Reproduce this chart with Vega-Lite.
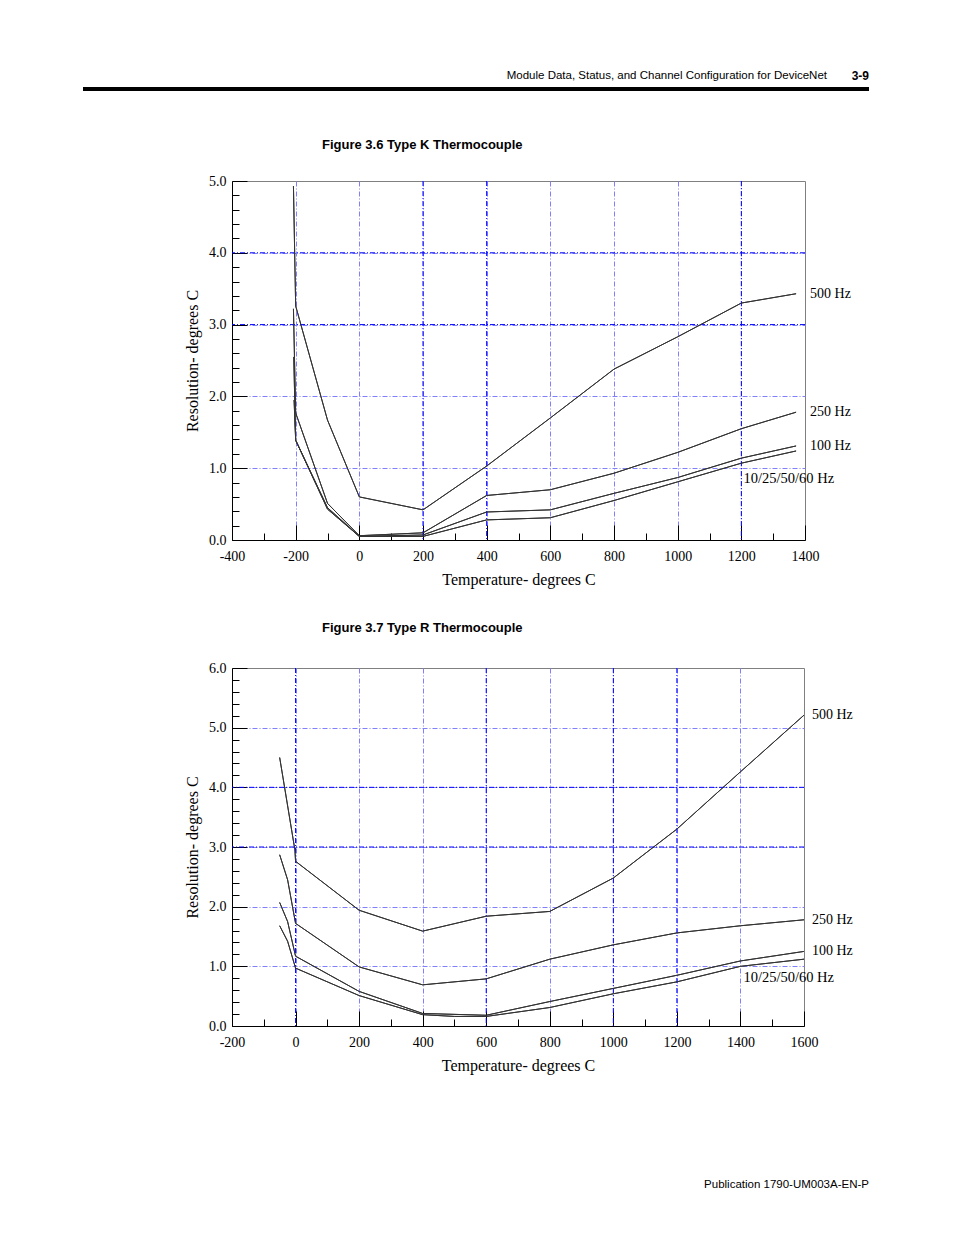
{
  "$schema": "https://vega.github.io/schema/vega-lite/v6.json",
  "padding": {"left": 83, "top": 69, "right": 0, "bottom": 0},
  "background": "white",
  "title": {"text": "3-9", "anchor": "end", "font": "Liberation Sans Narrow, Liberation Sans", "fontSize": 12, "fontWeight": "bold", "color": "black", "offset": 0, "dy": 13},
  "config": {
    "view": {"stroke": "#808080", "strokeWidth": 1},
    "axis": {"labelFont": "Liberation Serif", "labelFontSize": 14, "labelColor": "black", "titleFont": "Liberation Serif", "titleFontSize": 16, "titleFontWeight": "normal", "titleColor": "black", "domainColor": "black", "domainWidth": 1, "tickColor": "black", "tickWidth": 1, "labelFlush": false, "labelOverlap": false, "tickCount": 60, "gridDash": [5, 2, 1, 2], "gridWidth": 1, "gridColor": "#8080ff"},
    "title": {"color": "black"}
  },
  "datasets": {
    "k": [
      {"series": "500 Hz", "temp": -207, "res": 4.93},
      {"series": "500 Hz", "temp": -200, "res": 3.26},
      {"series": "500 Hz", "temp": -100, "res": 1.67},
      {"series": "500 Hz", "temp": 0, "res": 0.60},
      {"series": "500 Hz", "temp": 200, "res": 0.42},
      {"series": "500 Hz", "temp": 400, "res": 1.03},
      {"series": "500 Hz", "temp": 600, "res": 1.70},
      {"series": "500 Hz", "temp": 800, "res": 2.38},
      {"series": "500 Hz", "temp": 1000, "res": 2.83},
      {"series": "500 Hz", "temp": 1200, "res": 3.30},
      {"series": "500 Hz", "temp": 1372, "res": 3.43},
      {"series": "250 Hz", "temp": -207, "res": 3.22},
      {"series": "250 Hz", "temp": -200, "res": 1.77},
      {"series": "250 Hz", "temp": -100, "res": 0.51},
      {"series": "250 Hz", "temp": 0, "res": 0.06},
      {"series": "250 Hz", "temp": 100, "res": 0.08},
      {"series": "250 Hz", "temp": 200, "res": 0.10},
      {"series": "250 Hz", "temp": 400, "res": 0.62},
      {"series": "250 Hz", "temp": 600, "res": 0.70},
      {"series": "250 Hz", "temp": 800, "res": 0.93},
      {"series": "250 Hz", "temp": 1000, "res": 1.22},
      {"series": "250 Hz", "temp": 1200, "res": 1.55},
      {"series": "250 Hz", "temp": 1372, "res": 1.78},
      {"series": "100 Hz", "temp": -206, "res": 2.55},
      {"series": "100 Hz", "temp": -200, "res": 1.39},
      {"series": "100 Hz", "temp": -100, "res": 0.45},
      {"series": "100 Hz", "temp": 0, "res": 0.05},
      {"series": "100 Hz", "temp": 200, "res": 0.07},
      {"series": "100 Hz", "temp": 400, "res": 0.39},
      {"series": "100 Hz", "temp": 600, "res": 0.42},
      {"series": "100 Hz", "temp": 800, "res": 0.65},
      {"series": "100 Hz", "temp": 1000, "res": 0.87},
      {"series": "100 Hz", "temp": 1200, "res": 1.14},
      {"series": "100 Hz", "temp": 1372, "res": 1.31},
      {"series": "10/25/50/60 Hz", "temp": -205, "res": 1.95},
      {"series": "10/25/50/60 Hz", "temp": -200, "res": 1.39},
      {"series": "10/25/50/60 Hz", "temp": -100, "res": 0.43},
      {"series": "10/25/50/60 Hz", "temp": 0, "res": 0.05},
      {"series": "10/25/50/60 Hz", "temp": 200, "res": 0.05},
      {"series": "10/25/50/60 Hz", "temp": 400, "res": 0.28},
      {"series": "10/25/50/60 Hz", "temp": 600, "res": 0.31},
      {"series": "10/25/50/60 Hz", "temp": 800, "res": 0.55},
      {"series": "10/25/50/60 Hz", "temp": 1000, "res": 0.81},
      {"series": "10/25/50/60 Hz", "temp": 1200, "res": 1.07},
      {"series": "10/25/50/60 Hz", "temp": 1372, "res": 1.24}
    ],
    "r": [
      {"series": "500 Hz", "temp": -50, "res": 4.50},
      {"series": "500 Hz", "temp": -2, "res": 2.95},
      {"series": "500 Hz", "temp": 0, "res": 2.76},
      {"series": "500 Hz", "temp": 200, "res": 1.94},
      {"series": "500 Hz", "temp": 400, "res": 1.59},
      {"series": "500 Hz", "temp": 600, "res": 1.84},
      {"series": "500 Hz", "temp": 800, "res": 1.92},
      {"series": "500 Hz", "temp": 1000, "res": 2.48},
      {"series": "500 Hz", "temp": 1200, "res": 3.30},
      {"series": "500 Hz", "temp": 1400, "res": 4.26},
      {"series": "500 Hz", "temp": 1600, "res": 5.21},
      {"series": "250 Hz", "temp": -50, "res": 2.87},
      {"series": "250 Hz", "temp": -25, "res": 2.45},
      {"series": "250 Hz", "temp": 0, "res": 1.72},
      {"series": "250 Hz", "temp": 200, "res": 0.99},
      {"series": "250 Hz", "temp": 400, "res": 0.69},
      {"series": "250 Hz", "temp": 600, "res": 0.79},
      {"series": "250 Hz", "temp": 800, "res": 1.12},
      {"series": "250 Hz", "temp": 1000, "res": 1.36},
      {"series": "250 Hz", "temp": 1200, "res": 1.56},
      {"series": "250 Hz", "temp": 1400, "res": 1.68},
      {"series": "250 Hz", "temp": 1600, "res": 1.78},
      {"series": "100 Hz", "temp": -50, "res": 2.07},
      {"series": "100 Hz", "temp": -25, "res": 1.75},
      {"series": "100 Hz", "temp": 0, "res": 1.17},
      {"series": "100 Hz", "temp": 200, "res": 0.58},
      {"series": "100 Hz", "temp": 400, "res": 0.21},
      {"series": "100 Hz", "temp": 600, "res": 0.18},
      {"series": "100 Hz", "temp": 800, "res": 0.41},
      {"series": "100 Hz", "temp": 1000, "res": 0.63},
      {"series": "100 Hz", "temp": 1200, "res": 0.85},
      {"series": "100 Hz", "temp": 1400, "res": 1.09},
      {"series": "100 Hz", "temp": 1600, "res": 1.25},
      {"series": "10/25/50/60 Hz", "temp": -50, "res": 1.68},
      {"series": "10/25/50/60 Hz", "temp": -25, "res": 1.42},
      {"series": "10/25/50/60 Hz", "temp": 0, "res": 0.97},
      {"series": "10/25/50/60 Hz", "temp": 200, "res": 0.51},
      {"series": "10/25/50/60 Hz", "temp": 400, "res": 0.19},
      {"series": "10/25/50/60 Hz", "temp": 500, "res": 0.16},
      {"series": "10/25/50/60 Hz", "temp": 600, "res": 0.16},
      {"series": "10/25/50/60 Hz", "temp": 800, "res": 0.31},
      {"series": "10/25/50/60 Hz", "temp": 1000, "res": 0.54},
      {"series": "10/25/50/60 Hz", "temp": 1200, "res": 0.74},
      {"series": "10/25/50/60 Hz", "temp": 1400, "res": 1.00},
      {"series": "10/25/50/60 Hz", "temp": 1600, "res": 1.12}
    ],
    "kgridx": [{"g": 200}, {"g": 400}, {"g": 1200}],
    "kgridy": [{"g": 3}, {"g": 4}],
    "rgridx": [{"g": 0}, {"g": 600}, {"g": 1000}, {"g": 1200}],
    "rgridy": [{"g": 3}, {"g": 4}]
  },
  "spacing": 44,
  "vconcat": [
    {
      "data": {"values": [{}]},
      "mark": {"type": "text", "text": ""},
      "width": 786,
      "height": 4,
      "view": {"fill": "black", "stroke": null},
      "title": {"text": "Module Data, Status, and Channel Configuration for DeviceNet", "anchor": "end", "frame": "group", "dx": -42, "offset": 2, "font": "Liberation Sans Narrow, Liberation Sans", "fontSize": 11.5, "fontWeight": "normal", "color": "black"}
    },
    {
      "spacing": 105,
      "vconcat": [
        {
          "spacing": 0,
          "hconcat": [
            {
              "data": {"values": [{}]},
              "mark": {"type": "text", "text": ""},
              "width": 101,
              "height": 1,
              "view": {"stroke": null}
            },
            {
              "spacing": 33,
              "vconcat": [
                {
                  "width": 573,
                  "height": 359,
                  "title": {"text": "Figure 3.6 Type K Thermocouple", "anchor": "start", "frame": "group", "dx": 90, "offset": 22, "font": "Liberation Sans Narrow, Liberation Sans", "fontSize": 13, "fontWeight": "bold", "color": "black"},
                  "layer": [
                    {
                      "data": {"name": "k"},
                      "mark": {"type": "line", "color": "#333333", "strokeWidth": 1},
                      "encoding": {
                        "x": {"field": "temp", "type": "quantitative", "scale": {"domain": [-400, 1400], "nice": false, "zero": false},
                          "axis": {"title": "Temperature- degrees C", "titlePadding": 0, "tickCount": 60,
                            "values": [-400,-300,-200,-100,0,100,200,300,400,500,600,700,800,900,1000,1100,1200,1300,1400],
                            "labelExpr": "datum.value % 200 === 0 ? '' + datum.value : ''",
                            "labelPadding": 24,
                            "tickSize": {"condition": {"test": "datum.value % 200 === 0", "value": -15}, "value": -7},
                            "grid": true,
                            "gridOpacity": {"condition": {"test": "datum.value % 200 === 0 && datum.value > -400 && datum.value < 1400", "value": 1}, "value": 0}
                          }},
                        "y": {"field": "res", "type": "quantitative", "scale": {"domain": [0, 5], "nice": false, "zero": false},
                          "axis": {"title": "Resolution- degrees C", "titlePadding": 8, "tickCount": 60,
                            "values": [0,0.2,0.4,0.6,0.8,1,1.2,1.4,1.6,1.8,2,2.2,2.4,2.6,2.8,3,3.2,3.4,3.6,3.8,4,4.2,4.4,4.6,4.8,5],
                            "labelExpr": "abs(datum.value - round(datum.value)) < 0.001 ? format(datum.value, '.1f') : ''",
                            "labelPadding": 21,
                            "tickSize": {"condition": {"test": "abs(datum.value - round(datum.value)) < 0.001", "value": -15}, "value": -7},
                            "grid": true,
                            "gridOpacity": {"condition": {"test": "abs(datum.value - round(datum.value)) < 0.001 && datum.value > 0 && datum.value < 5", "value": 1}, "value": 0}
                          }},
                        "detail": {"field": "series"}
                      }
                    },
                    {
                      "data": {"name": "kgridx"},
                      "mark": {"type": "rule", "color": "#0000ff", "strokeWidth": 1, "strokeDash": [5, 2, 1, 2]},
                      "encoding": {"x": {"field": "g", "type": "quantitative"}}
                    },
                    {
                      "data": {"name": "kgridy"},
                      "mark": {"type": "rule", "color": "#0000ff", "strokeWidth": 1, "strokeDash": [5, 2, 1, 2]},
                      "encoding": {"y": {"field": "g", "type": "quantitative"}}
                    },
                    {
                      "data": {"name": "k"},
                      "mark": {"type": "line", "color": "#333333", "strokeWidth": 1},
                      "encoding": {"x": {"field": "temp", "type": "quantitative"}, "y": {"field": "res", "type": "quantitative"}, "detail": {"field": "series"}}
                    },
                    {
                      "data": {"name": "k"},
                      "transform": [{"filter": "datum.temp == 1372 && datum.series != '10/25/50/60 Hz'"}],
                      "mark": {"type": "text", "align": "left", "baseline": "middle", "dx": 14, "font": "Liberation Serif", "fontSize": 14, "color": "black"},
                      "encoding": {"x": {"field": "temp", "type": "quantitative"}, "y": {"field": "res", "type": "quantitative"}, "text": {"field": "series"}}
                    },
                    {
                      "data": {"name": "k"},
                      "transform": [{"filter": "datum.temp == 1372 && datum.series == '10/25/50/60 Hz'"}],
                      "mark": {"type": "text", "align": "right", "baseline": "middle", "dx": 38, "dy": 28, "font": "Liberation Serif", "fontSize": 14.5, "color": "black"},
                      "encoding": {"x": {"field": "temp", "type": "quantitative"}, "y": {"field": "res", "type": "quantitative"}, "text": {"field": "series"}}
                    }
                  ]
                },
                {
                  "width": 572,
                  "height": 358,
                  "title": {"text": "Figure 3.7 Type R Thermocouple", "anchor": "start", "frame": "group", "dx": 90, "offset": 26, "font": "Liberation Sans Narrow, Liberation Sans", "fontSize": 13, "fontWeight": "bold", "color": "black"},
                  "layer": [
                    {
                      "data": {"name": "r"},
                      "mark": {"type": "line", "color": "#333333", "strokeWidth": 1},
                      "encoding": {
                        "x": {"field": "temp", "type": "quantitative", "scale": {"domain": [-200, 1600], "nice": false, "zero": false},
                          "axis": {"title": "Temperature- degrees C", "titlePadding": 0, "tickCount": 60,
                            "values": [-200,-100,0,100,200,300,400,500,600,700,800,900,1000,1100,1200,1300,1400,1500,1600],
                            "labelExpr": "datum.value % 200 === 0 ? '' + datum.value : ''",
                            "labelPadding": 24,
                            "tickSize": {"condition": {"test": "datum.value % 200 === 0", "value": -15}, "value": -7},
                            "grid": true,
                            "gridOpacity": {"condition": {"test": "datum.value % 200 === 0 && datum.value > -200 && datum.value < 1600", "value": 1}, "value": 0}
                          }},
                        "y": {"field": "res", "type": "quantitative", "scale": {"domain": [0, 6], "nice": false, "zero": false},
                          "axis": {"title": "Resolution- degrees C", "titlePadding": 8, "tickCount": 60,
                            "values": [0,0.2,0.4,0.6,0.8,1,1.2,1.4,1.6,1.8,2,2.2,2.4,2.6,2.8,3,3.2,3.4,3.6,3.8,4,4.2,4.4,4.6,4.8,5,5.2,5.4,5.6,5.8,6],
                            "labelExpr": "abs(datum.value - round(datum.value)) < 0.001 ? format(datum.value, '.1f') : ''",
                            "labelPadding": 21,
                            "tickSize": {"condition": {"test": "abs(datum.value - round(datum.value)) < 0.001", "value": -15}, "value": -7},
                            "grid": true,
                            "gridOpacity": {"condition": {"test": "abs(datum.value - round(datum.value)) < 0.001 && datum.value > 0 && datum.value < 6", "value": 1}, "value": 0}
                          }},
                        "detail": {"field": "series"}
                      }
                    },
                    {
                      "data": {"name": "rgridx"},
                      "mark": {"type": "rule", "color": "#0000ff", "strokeWidth": 1, "strokeDash": [5, 2, 1, 2]},
                      "encoding": {"x": {"field": "g", "type": "quantitative"}}
                    },
                    {
                      "data": {"name": "rgridy"},
                      "mark": {"type": "rule", "color": "#0000ff", "strokeWidth": 1, "strokeDash": [5, 2, 1, 2]},
                      "encoding": {"y": {"field": "g", "type": "quantitative"}}
                    },
                    {
                      "data": {"name": "r"},
                      "mark": {"type": "line", "color": "#333333", "strokeWidth": 1},
                      "encoding": {"x": {"field": "temp", "type": "quantitative"}, "y": {"field": "res", "type": "quantitative"}, "detail": {"field": "series"}}
                    },
                    {
                      "data": {"name": "r"},
                      "transform": [{"filter": "datum.temp == 1600 && datum.series != '10/25/50/60 Hz'"}],
                      "mark": {"type": "text", "align": "left", "baseline": "middle", "dx": 8, "font": "Liberation Serif", "fontSize": 14, "color": "black"},
                      "encoding": {"x": {"field": "temp", "type": "quantitative"}, "y": {"field": "res", "type": "quantitative"}, "text": {"field": "series"}}
                    },
                    {
                      "data": {"name": "r"},
                      "transform": [{"filter": "datum.temp == 1600 && datum.series == '10/25/50/60 Hz'"}],
                      "mark": {"type": "text", "align": "right", "baseline": "middle", "dx": 30, "dy": 19, "font": "Liberation Serif", "fontSize": 14.5, "color": "black"},
                      "encoding": {"x": {"field": "temp", "type": "quantitative"}, "y": {"field": "res", "type": "quantitative"}, "text": {"field": "series"}}
                    }
                  ]
                }
              ]
            }
          ]
        },
        {
          "data": {"values": [{}]},
          "mark": {"type": "text", "text": ""},
          "width": 786,
          "height": 1,
          "view": {"stroke": null},
          "title": {"text": "Publication 1790-UM003A-EN-P", "anchor": "end", "frame": "group", "offset": 0, "font": "Liberation Sans Narrow, Liberation Sans", "fontSize": 11.5, "fontWeight": "normal", "color": "black"}
        }
      ]
    }
  ]
}
